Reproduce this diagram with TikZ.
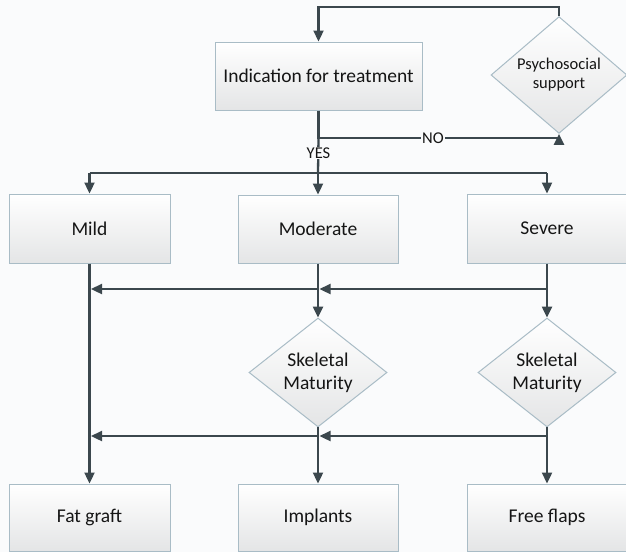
\documentclass[tikz,border=0pt]{standalone}
\usepackage{fontspec}
\setmainfont{Carlito}
\usetikzlibrary{shapes.geometric,arrows.meta}
\definecolor{bgc}{HTML}{FAFBFC}
\definecolor{edge}{HTML}{A9BCC6}
\definecolor{linec}{HTML}{3B474D}
\definecolor{txt}{HTML}{151515}
\definecolor{fillbot}{HTML}{E4E5E6}
\tikzset{
  boxnode/.style={rectangle, draw=edge, line width=1pt, top color=white, bottom color=fillbot,
    inner sep=0pt, text=txt, font=\fontsize{19.5}{23}\selectfont, align=center},
  decnode/.style={diamond, draw=edge, line width=1pt, top color=white, bottom color=fillbot,
    inner sep=0pt, text=txt, align=center},
  conn/.style={draw=linec, line width=2.3pt},
  arr/.style={conn, -{Triangle[length=11pt,width=10pt]}},
  lab/.style={fill=bgc, inner sep=1pt, text=txt, font=\fontsize{16.5}{18}\selectfont},
}
\begin{document}
\begin{tikzpicture}[x=1pt,y=-1pt]
\fill[bgc] (0,0) rectangle (626,552);
\useasboundingbox (0,0) rectangle (626,552);

\node[boxnode, minimum width=207pt, minimum height=68pt] (ind) at (318.5,76) {Indication for treatment};
\node[decnode, minimum width=136pt, minimum height=84pt, font=\fontsize{16.5}{19}\selectfont] (psy) at (559,75) {Psychosocial\\support};

\node[boxnode, minimum width=161pt, minimum height=69pt] (mild) at (89.5,228.5) {Mild};
\node[boxnode, minimum width=160pt, minimum height=68pt] (mod) at (318,229) {Moderate};
\node[boxnode, minimum width=160pt, minimum height=69pt] (sev) at (547,228.5) {Severe};

\node[decnode, minimum width=138pt, minimum height=81pt, font=\fontsize{19.5}{23}\selectfont] (sk1) at (318,372.5) {Skeletal\\Maturity};
\node[decnode, minimum width=138pt, minimum height=81pt, font=\fontsize{19.5}{23}\selectfont] (sk2) at (547,372.5) {Skeletal\\Maturity};

\node[boxnode, minimum width=161pt, minimum height=67pt] (fat) at (89.5,517.5) {Fat graft};
\node[boxnode, minimum width=160pt, minimum height=67pt] (imp) at (318,517.5) {Implants};
\node[boxnode, minimum width=160pt, minimum height=67pt] (ff) at (547,517.5) {Free flaps};

% coordinates
\coordinate (tl) at (318.5,7);
\coordinate (tr) at (559,7);
\coordinate (nol) at (318.5,138);
\coordinate (nor) at (559,138);
\coordinate (bm) at (318,173);
\coordinate (bl) at (89.5,173);
\coordinate (br) at (547,173);
\coordinate (h1r) at (547,289);
\coordinate (h1m) at (318,289);
\coordinate (h1l) at (89.5,289);
\coordinate (h2r) at (547,436);
\coordinate (h2m) at (318,436);
\coordinate (h2l) at (89.5,436);

% top loop
\draw[arr] (psy.north) -- (tr) -- (tl) -- (ind.north);
% NO path
\draw[arr] (ind.south) -- (nol) -- (nor) -- (psy.south);
\node[lab] (no) at (433,138) {NO};
% YES path
\draw[conn] (nol) -- (bm);
\node[lab] (yes) at (318.5,153) {YES};
\draw[conn] (bl) -- (br);
\draw[arr] (bl) -- (mild.north);
\draw[arr] (bm) -- (mod.north);
\draw[arr] (br) -- (sev.north);

% verticals
\draw[arr] (mild.south) -- (fat.north);
\draw[arr] (mod.south) -- (sk1.north);
\draw[arr] (sev.south) -- (sk2.north);
\draw[arr] (sk1.south) -- (imp.north);
\draw[arr] (sk2.south) -- (ff.north);

% horizontal cross arrows
\draw[arr] (h1r) -- ([xshift=1.5pt]h1m);
\draw[arr] (h1m) -- ([xshift=1.5pt]h1l);
\draw[arr] (h2r) -- ([xshift=1.5pt]h2m);
\draw[arr] (h2m) -- ([xshift=1.5pt]h2l);
\end{tikzpicture}
\end{document}
